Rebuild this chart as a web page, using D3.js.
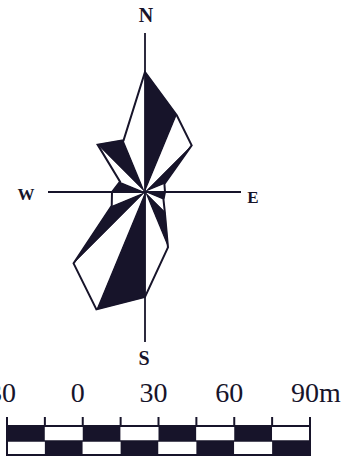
<!DOCTYPE html>
<html>
<head>
<meta charset="utf-8">
<script src="https://cdn.jsdelivr.net/npm/d3@7"></script>
<style>
  html, body { margin: 0; padding: 0; background: #fff; }
  svg { display: block; }
</style>
</head>
<body>
<svg id="chart" width="347" height="465"></svg>
<script>
// ---- data ----
const directions = [0, 22.5, 45, 67.5, 90, 112.5, 135, 157.5, 180, 202.5, 225, 247.5, 270, 292.5, 315, 337.5];
const lengths    = [120, 83, 66, 21, 20, 20, 28, 60, 105, 127, 101, 36, 33, 27, 67, 56];
const compassLabels = ["N", "E", "S", "W"];
const compassAngles = [0, 90, 180, 270];
const scaleTickValues = [-30, -15, 0, 15, 30, 45, 60, 75, 90];
const scaleLabelValues = [-30, 0, 30, 60, 90];
const scaleLabels = ["30", "0", "30", "60", "90m"];
const scaleSegments = [-30, -15, 0, 15, 30, 45, 60, 75];

const ink = "#17142a";
const svg = d3.select("#chart");

// ---- rose ----
const cx = 145, cy = 192;
const r = d3.scaleLinear().domain([0, 130]).range([0, 130]);
const rad = d => d * Math.PI / 180;
const g = svg.append("g").attr("transform", `translate(${cx},${cy})`);

const verts = directions.map((a, i) => d3.pointRadial(rad(a), r(lengths[i])));
const tris = directions.map((a, i) => ({
  i,
  pts: [[0, 0], verts[i], verts[(i + 1) % verts.length]]
}));

g.selectAll("path.tri").data(tris).join("path")
  .attr("class", "tri")
  .attr("d", d => "M" + d.pts.map(p => p.join(",")).join("L") + "Z")
  .attr("fill", d => d.i % 2 === 0 ? ink : "#fff")
  .attr("stroke", d => d.i % 2 === 0 ? ink : "none")
  .attr("stroke-width", 0.6);

g.append("path")
  .attr("d", d3.line()(verts) + "Z")
  .attr("fill", "none")
  .attr("stroke", ink)
  .attr("stroke-width", 2)
  .attr("stroke-linejoin", "miter");

// axes
const axisLen = { 0: 159, 90: 96, 180: 150, 270: 97 };
compassAngles.forEach(a => {
  const p = d3.pointRadial(rad(a), axisLen[a]);
  g.append("line")
    .attr("x1", 0).attr("y1", 0)
    .attr("x2", p[0]).attr("y2", p[1])
    .attr("stroke", ink).attr("stroke-width", 1.8);
});

// compass labels
const labelPos = {
  N: { x: 146, y: 22, size: 20 },
  S: { x: 144, y: 365, size: 20 },
  W: { x: 26, y: 200, size: 17 },
  E: { x: 253, y: 203, size: 17 }
};
svg.selectAll("text.compass").data(compassLabels).join("text")
  .attr("class", "compass")
  .attr("x", d => labelPos[d].x)
  .attr("y", d => labelPos[d].y)
  .attr("text-anchor", "middle")
  .attr("font-family", "Liberation Serif, Times New Roman, serif")
  .attr("font-weight", "bold")
  .attr("font-size", d => labelPos[d].size)
  .attr("fill", ink)
  .text(d => d);

// ---- scale bar ----
const xs = d3.scaleLinear().domain([-30, 90]).range([7, 310]);
const barTop = 425, barMid = 441, barBot = 456;
const sb = svg.append("g");

scaleSegments.forEach((v, i) => {
  const x0 = xs(v), x1 = xs(v + 15);
  sb.append("rect").attr("x", x0).attr("y", barTop).attr("width", x1 - x0).attr("height", barMid - barTop)
    .attr("fill", i % 2 === 0 ? ink : "#fff");
  sb.append("rect").attr("x", x0).attr("y", barMid).attr("width", x1 - x0).attr("height", barBot - barMid)
    .attr("fill", i % 2 === 0 ? "#fff" : ink);
});
// outlines
sb.append("line").attr("x1", xs(-30)).attr("x2", xs(90)).attr("y1", barTop + 1).attr("y2", barTop + 1)
  .attr("stroke", ink).attr("stroke-width", 2);
sb.append("line").attr("x1", xs(-30)).attr("x2", xs(90)).attr("y1", barMid).attr("y2", barMid)
  .attr("stroke", ink).attr("stroke-width", 1.5);
sb.append("line").attr("x1", xs(-30)).attr("x2", xs(90)).attr("y1", barBot - 1).attr("y2", barBot - 1)
  .attr("stroke", ink).attr("stroke-width", 2);
sb.selectAll("line.tick").data(scaleTickValues).join("line")
  .attr("class", "tick")
  .attr("x1", d => xs(d)).attr("x2", d => xs(d))
  .attr("y1", 417).attr("y2", d => (d === -30 || d === 90) ? barBot : barTop + 2)
  .attr("stroke", ink).attr("stroke-width", 2);

sb.selectAll("text.lab").data(scaleLabelValues).join("text")
  .attr("class", "lab")
  .attr("x", (d, i) => xs(d) - 5 - scaleLabels[i].replace(/[^0-9]/g, "").length * 7)
  .attr("y", 402)
  .attr("font-family", "Liberation Serif, Times New Roman, serif")
  .attr("font-size", 28)
  .attr("fill", ink)
  .text((d, i) => scaleLabels[i]);
</script>
</body>
</html>
